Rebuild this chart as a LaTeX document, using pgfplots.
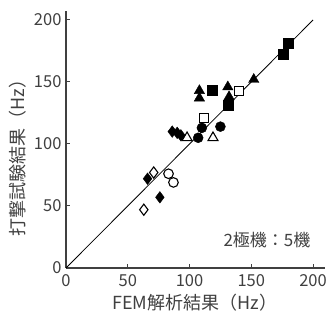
\documentclass[border=0pt]{standalone}
\usepackage{pgfplots}
\pgfplotsset{compat=1.18}
\usepackage{fontspec}
\setmainfont{Noto Sans CJK JP}
\definecolor{txt}{rgb}{0.25,0.25,0.25}
\begin{document}
\begin{tikzpicture}
\useasboundingbox (-66pt,-52pt) rectangle (263pt,268pt);
\begin{axis}[
  at={(0pt,0pt)}, anchor=origin,
  scale only axis,
  width=259.4pt, height=256.7pt,
  xmin=0, xmax=210, ymin=0, ymax=207,
  axis lines=left,
  axis line style={-, txt, line width=1.1pt},
  tick style={txt, line width=1pt},
  tick align=inside,
  major tick length=4pt,
  xtick={0,50,100,150,200},
  ytick={0,50,100,150,200},
  /pgf/number format/assume math mode=true,
  ticklabel style={font=\fontsize{16.5}{16.5}\selectfont, text=txt},
  xticklabel style={yshift=-3pt},
  yticklabel style={xshift=-1pt},
  label style={font=\fontsize{18}{18}\selectfont, text=txt},
  xlabel={FEM解析結果（Hz）},
  ylabel={打撃試験結果（Hz）},
  xlabel style={at={(axis description cs:0.496,-0.136)}, anchor=center},
  ylabel style={at={(axis description cs:-0.187,0.446)}, anchor=center},
  clip=false,
]
\addplot[black, line width=0.8pt] coordinates {(0,0) (200,200)};
% filled squares
\addplot[only marks, mark=square*, mark size=5pt, mark options={fill=black, draw=black}]
  coordinates {(180,181) (176,172) (118,143) (131,131)};
% open squares
\addplot[only marks, mark=square*, mark size=4.6pt, mark options={fill=white, draw=black, line width=1.1pt}]
  coordinates {(140,143) (112,121)};
% filled triangles
\addplot[only marks, mark=triangle*, mark size=6pt, mark options={fill=black, draw=black}]
  coordinates {(108,143) (108,137) (131,146) (132,138) (152,152)};
% open triangles
\addplot[only marks, mark=triangle*, mark size=5.8pt, mark options={fill=white, draw=black, line width=1.1pt}]
  coordinates {(98,105) (119,105)};
% filled circles
\addplot[only marks, mark=*, mark size=5pt, mark options={fill=black, draw=black}]
  coordinates {(107,105) (110,113) (125,114)};
% open circles
\addplot[only marks, mark=*, mark size=4.8pt, mark options={fill=white, draw=black, line width=1.1pt}]
  coordinates {(83,76) (87,69)};
% filled diamonds
\addplot[only marks, mark=diamond*, mark size=5.8pt, mark options={fill=black, draw=black}]
  coordinates {(86,110) (90,109) (93,107) (66,72) (76,57)};
% open diamonds
\addplot[only marks, mark=diamond*, mark size=5.6pt, mark options={fill=white, draw=black, line width=1.1pt}]
  coordinates {(71,77) (63,47)};
\node[anchor=east, text=txt, font=\fontsize{17}{17}\selectfont, inner sep=0pt] at (axis cs:198,22.6) {2極機：5機};
\end{axis}
\end{tikzpicture}
\end{document}
